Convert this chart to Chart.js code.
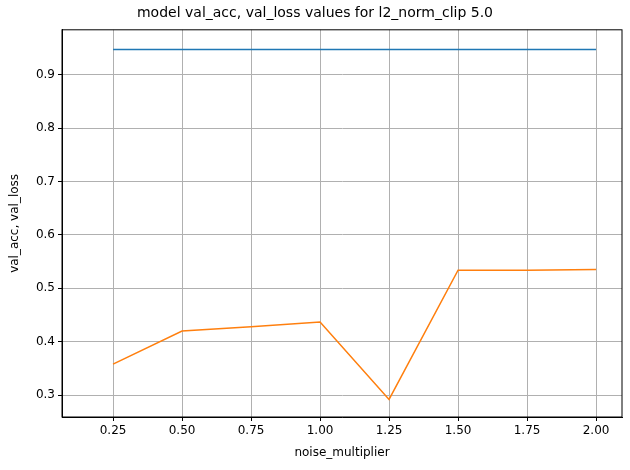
<!DOCTYPE html>
<html>
<head>
<meta charset="utf-8">
<script src="https://cdn.jsdelivr.net/npm/chart.js@4"></script>
<style>
  html, body { margin: 0; padding: 0; background: #fff; }
  #wrap { width: 630px; height: 470px; }
</style>
</head>
<body>
<div id="wrap"><canvas id="chart"></canvas></div>
<script>
const noiseMultipliers = [0.25, 0.5, 0.75, 1.0, 1.25, 1.5, 1.75, 2.0];
const valAcc = [0.947, 0.947, 0.947, 0.947, 0.947, 0.947, 0.947, 0.947];
const valLoss = [0.358, 0.420, 0.428, 0.437, 0.292, 0.534, 0.534, 0.535];
const xTicks = [0.25, 0.5, 0.75, 1.0, 1.25, 1.5, 1.75, 2.0];
const yTicks = [0.3, 0.4, 0.5, 0.6, 0.7, 0.8, 0.9];

const font = { family: 'DejaVu Sans', size: 12 };

function toPoints(ys) {
  return noiseMultipliers.map((x, i) => ({ x, y: ys[i] }));
}

new Chart(document.getElementById('chart').getContext('2d'), {
  type: 'line',
  data: {
    datasets: [
      { label: 'val_acc', data: toPoints(valAcc), borderColor: '#1f77b4', borderWidth: 1.5, pointRadius: 0, tension: 0 },
      { label: 'val_loss', data: toPoints(valLoss), borderColor: '#ff7f0e', borderWidth: 1.5, pointRadius: 0, tension: 0 }
    ]
  },
  options: {
    responsive: true,
    maintainAspectRatio: false,
    animation: false,
    layout: { padding: { right: 8, top: 0, left: 8, bottom: 10 } },
    plugins: {
      legend: { display: false },
      tooltip: { enabled: false },
      title: {
        display: true,
        text: 'model val_acc, val_loss values for l2_norm_clip 5.0',
        color: '#000',
        font: { family: 'DejaVu Sans', size: 14, weight: 'normal' },
        padding: { top: 5, bottom: 8 }
      }
    },
    scales: {
      x: {
        type: 'linear',
        min: 0.065,
        max: 2.094,
        afterBuildTicks: axis => { axis.ticks = xTicks.map(v => ({ value: v })); },
        afterFit: axis => { axis.height = 43; },
        ticks: { color: '#000', font, callback: v => v.toFixed(2), maxRotation: 0 },
        grid: { color: '#b0b0b0', tickColor: '#000', tickLength: 4 },
        border: { color: '#000' },
        title: { display: true, text: 'noise_multiplier', color: '#000', font, padding: 0 }
      },
      y: {
        min: 0.259,
        max: 0.984,
        afterBuildTicks: axis => { axis.ticks = yTicks.map(v => ({ value: v })); },
        afterFit: axis => { axis.width = 54; },
        ticks: { color: '#000', font, callback: v => v.toFixed(1) },
        grid: { color: '#b0b0b0', tickColor: '#000', tickLength: 4 },
        border: { color: '#000' },
        title: { display: true, text: 'val_acc, val_loss', color: '#000', font, padding: 0 }
      }
    }
  },
  plugins: [{
    id: 'frame',
    afterDraw(chart) {
      const { ctx, chartArea: a } = chart;
      ctx.save();
      ctx.strokeStyle = '#000';
      ctx.lineWidth = 1;
      ctx.strokeRect(a.left, a.top, a.right - a.left, a.bottom - a.top);
      ctx.restore();
    }
  }]
});
</script>
</body>
</html>
